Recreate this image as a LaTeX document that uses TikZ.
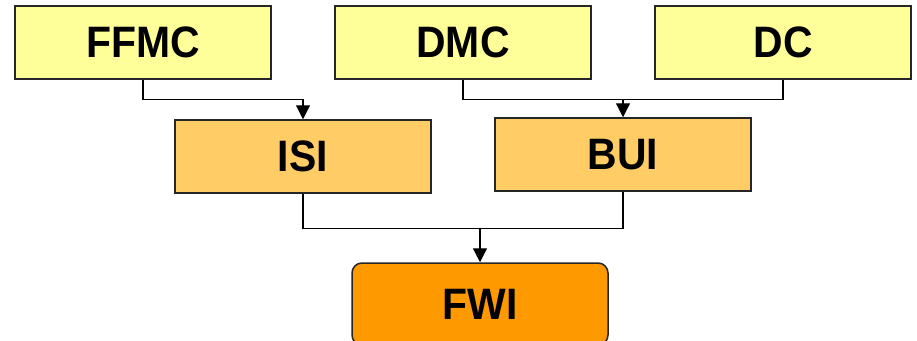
\documentclass[tikz,border=0pt]{standalone}
\usepackage{fontspec}
\setmainfont{Liberation Sans}[FakeStretch=0.93]
\usepackage{tikz}
\usetikzlibrary{arrows.meta}

\definecolor{paleyellow}{HTML}{FFFF99}
\definecolor{lightorange}{HTML}{FFCC66}
\definecolor{deeporange}{HTML}{FF9900}

\tikzset{
    box/.style={draw=black!85, line width=1.5pt, minimum width=256pt, minimum height=73pt,
        inner sep=0pt, font=\fontsize{44}{48}\selectfont\bfseries},
    codebox/.style={box, fill=paleyellow},
    idxbox/.style={box, fill=lightorange},
    fwibox/.style={box, fill=deeporange, rounded corners=10pt, minimum height=82pt},
    link/.style={line width=1.2pt},
    arr/.style={link, -{Triangle[length=14pt,width=14pt]}}
}

\begin{document}
\begin{tikzpicture}[x=1pt,y=-1pt]
    \useasboundingbox (0,0) rectangle (917,340);

    \node[codebox](ffmc) at (143,42.5){FFMC};
    \node[codebox](dmc) at (463,42.5){DMC};
    \node[codebox](dc) at (783,42.5){DC};

    \node[idxbox](isi) at (303,156.5){ISI};
    \node[idxbox](bui) at (623,154.5){BUI};

    \node[fwibox](fwi) at (480,304){FWI};

    \draw[arr](ffmc.south)--++(0,20)-|(isi.north);

    \path(dmc.south)++(0,20)coordinate(bj);
    \draw[link](dmc.south)--(bj)-|(dc.south);
    \draw[arr](bj-|bui.north)--(bui.north);

    \path(isi.south)++(0,35)coordinate(fj);
    \draw[link](isi.south)--(fj)-|(bui.south);
    \draw[arr](fj-|fwi.north)--(fwi.north);
\end{tikzpicture}
\end{document}
